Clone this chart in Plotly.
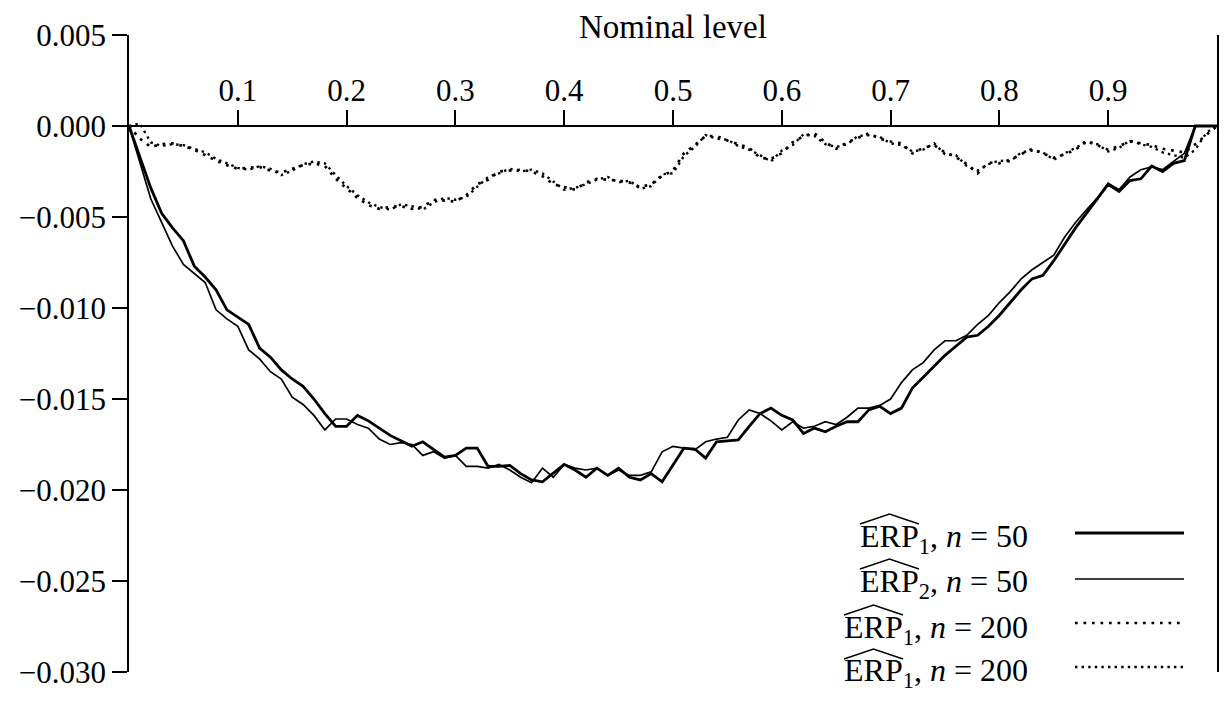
import plotly.graph_objects as go

# ---------------- data ----------------
nominal = [round(i * 0.01, 2) for i in range(101)]

erp1_n50 = [
    0.0, -1.70e-3, -3.40e-3, -4.80e-3, -5.60e-3, -6.30e-3, -7.70e-3, -8.30e-3, -9.00e-3, -10.10e-3,
    -10.50e-3, -10.90e-3, -12.20e-3, -12.70e-3, -13.40e-3, -13.90e-3, -14.30e-3, -15.00e-3, -15.80e-3, -16.50e-3,
    -16.50e-3, -15.90e-3, -16.20e-3, -16.60e-3, -17.00e-3, -17.30e-3, -17.60e-3, -17.35e-3, -17.80e-3, -18.20e-3,
    -18.10e-3, -17.70e-3, -17.70e-3, -18.70e-3, -18.70e-3, -18.65e-3, -19.10e-3, -19.45e-3, -19.55e-3, -19.10e-3,
    -18.60e-3, -18.90e-3, -19.30e-3, -18.80e-3, -19.20e-3, -18.80e-3, -19.30e-3, -19.45e-3, -19.10e-3, -19.55e-3,
    -18.60e-3, -17.70e-3, -17.75e-3, -18.25e-3, -17.35e-3, -17.30e-3, -17.25e-3, -16.50e-3, -15.80e-3, -15.50e-3,
    -15.90e-3, -16.15e-3, -16.90e-3, -16.60e-3, -16.80e-3, -16.50e-3, -16.25e-3, -16.25e-3, -15.60e-3, -15.40e-3,
    -15.80e-3, -15.50e-3, -14.40e-3, -13.80e-3, -13.20e-3, -12.60e-3, -12.10e-3, -11.60e-3, -11.50e-3, -11.00e-3,
    -10.40e-3, -9.70e-3, -9.00e-3, -8.40e-3, -8.20e-3, -7.40e-3, -6.50e-3, -5.60e-3, -4.80e-3, -4.00e-3,
    -3.20e-3, -3.60e-3, -3.00e-3, -2.90e-3, -2.20e-3, -2.50e-3, -2.05e-3, -1.90e-3, 0.0, 0.0,
    0.0,
]

erp2_n50 = [
    0.0, -2.00e-3, -4.00e-3, -5.30e-3, -6.60e-3, -7.60e-3, -8.10e-3, -8.60e-3, -10.10e-3, -10.60e-3,
    -11.00e-3, -12.30e-3, -12.80e-3, -13.50e-3, -13.90e-3, -14.90e-3, -15.30e-3, -15.90e-3, -16.70e-3, -16.10e-3,
    -16.10e-3, -16.40e-3, -16.60e-3, -17.20e-3, -17.50e-3, -17.40e-3, -17.50e-3, -18.10e-3, -17.90e-3, -18.25e-3,
    -18.10e-3, -18.70e-3, -18.70e-3, -18.80e-3, -18.60e-3, -18.90e-3, -19.30e-3, -19.60e-3, -18.80e-3, -19.30e-3,
    -18.60e-3, -18.80e-3, -18.90e-3, -18.80e-3, -19.20e-3, -18.90e-3, -19.20e-3, -19.20e-3, -19.00e-3, -17.90e-3,
    -17.60e-3, -17.70e-3, -17.80e-3, -17.35e-3, -17.20e-3, -17.10e-3, -16.15e-3, -15.60e-3, -15.80e-3, -16.20e-3,
    -16.70e-3, -16.25e-3, -16.60e-3, -16.50e-3, -16.25e-3, -16.40e-3, -16.00e-3, -15.50e-3, -15.50e-3, -15.35e-3,
    -15.00e-3, -14.10e-3, -13.40e-3, -13.00e-3, -12.30e-3, -11.80e-3, -11.80e-3, -11.50e-3, -10.90e-3, -10.40e-3,
    -9.70e-3, -9.10e-3, -8.40e-3, -7.90e-3, -7.50e-3, -7.10e-3, -6.10e-3, -5.30e-3, -4.60e-3, -3.95e-3,
    -3.15e-3, -3.50e-3, -2.80e-3, -2.40e-3, -2.25e-3, -2.40e-3, -1.95e-3, -1.50e-3, 0.0, 0.0,
    0.0,
]

erp1_n200_a = [
    0.0, -0.70e-3, -1.15e-3, -1.00e-3, -0.95e-3, -1.10e-3, -1.30e-3, -1.60e-3, -1.90e-3, -2.15e-3,
    -2.35e-3, -2.30e-3, -2.25e-3, -2.45e-3, -2.55e-3, -2.35e-3, -2.15e-3, -2.05e-3, -2.20e-3, -2.90e-3,
    -3.45e-3, -3.95e-3, -4.35e-3, -4.55e-3, -4.45e-3, -4.40e-3, -4.55e-3, -4.45e-3, -4.05e-3, -4.10e-3,
    -4.15e-3, -3.80e-3, -3.20e-3, -2.95e-3, -2.50e-3, -2.45e-3, -2.40e-3, -2.50e-3, -2.75e-3, -3.20e-3,
    -3.35e-3, -3.50e-3, -3.10e-3, -2.90e-3, -2.95e-3, -3.00e-3, -3.10e-3, -3.35e-3, -3.20e-3, -2.75e-3,
    -2.45e-3, -1.50e-3, -1.05e-3, -0.55e-3, -0.55e-3, -0.80e-3, -1.00e-3, -1.20e-3, -1.75e-3, -1.80e-3,
    -1.50e-3, -0.90e-3, -0.55e-3, -0.40e-3, -0.90e-3, -1.25e-3, -0.90e-3, -0.65e-3, -0.40e-3, -0.70e-3,
    -0.85e-3, -0.95e-3, -1.50e-3, -1.20e-3, -1.05e-3, -1.45e-3, -1.70e-3, -2.10e-3, -2.60e-3, -2.00e-3,
    -2.05e-3, -1.85e-3, -1.55e-3, -1.25e-3, -1.50e-3, -1.75e-3, -1.55e-3, -1.30e-3, -0.80e-3, -1.05e-3,
    -1.30e-3, -1.10e-3, -0.85e-3, -0.95e-3, -1.05e-3, -1.25e-3, -1.35e-3, -1.45e-3, -1.00e-3, -0.50e-3,
    0.0,
]

erp1_n200_b = [
    0.0, 0.15e-3, -0.90e-3, -1.10e-3, -1.00e-3, -1.05e-3, -1.25e-3, -1.45e-3, -1.80e-3, -2.05e-3,
    -2.30e-3, -2.40e-3, -2.20e-3, -2.35e-3, -2.70e-3, -2.45e-3, -2.10e-3, -1.95e-3, -2.05e-3, -2.70e-3,
    -3.30e-3, -3.80e-3, -4.20e-3, -4.45e-3, -4.60e-3, -4.30e-3, -4.40e-3, -4.60e-3, -4.20e-3, -3.95e-3,
    -4.05e-3, -3.90e-3, -3.35e-3, -2.80e-3, -2.60e-3, -2.35e-3, -2.50e-3, -2.40e-3, -2.60e-3, -3.05e-3,
    -3.50e-3, -3.40e-3, -3.20e-3, -2.95e-3, -2.80e-3, -3.10e-3, -3.00e-3, -3.45e-3, -3.30e-3, -2.65e-3,
    -2.60e-3, -1.65e-3, -1.15e-3, -0.50e-3, -0.70e-3, -0.75e-3, -1.10e-3, -1.30e-3, -1.60e-3, -1.95e-3,
    -1.35e-3, -1.05e-3, -0.45e-3, -0.55e-3, -1.00e-3, -1.15e-3, -1.00e-3, -0.55e-3, -0.50e-3, -0.60e-3,
    -0.95e-3, -1.05e-3, -1.40e-3, -1.30e-3, -0.95e-3, -1.55e-3, -1.60e-3, -2.20e-3, -2.45e-3, -2.10e-3,
    -1.90e-3, -1.95e-3, -1.45e-3, -1.35e-3, -1.45e-3, -1.85e-3, -1.50e-3, -1.20e-3, -0.90e-3, -1.00e-3,
    -1.40e-3, -1.20e-3, -0.80e-3, -1.00e-3, -1.15e-3, -1.45e-3, -1.60e-3, -1.75e-3, -1.30e-3, -0.40e-3,
    0.10e-3,
]

x_ticks = [0.1, 0.2, 0.3, 0.4, 0.5, 0.6, 0.7, 0.8, 0.9]
x_tick_text = ["0.1", "0.2", "0.3", "0.4", "0.5", "0.6", "0.7", "0.8", "0.9"]
y_ticks = [0.005, 0.0, -0.005, -0.010, -0.015, -0.020, -0.025, -0.030]

legend_labels = [
    "ERP<sub>1</sub>, <i>n</i> = 50",
    "ERP<sub>2</sub>, <i>n</i> = 50",
    "ERP<sub>1</sub>, <i>n</i> = 200",
    "ERP<sub>1</sub>, <i>n</i> = 200",
]

# ---------------- styling / geometry ----------------
FONT = "Liberation Serif"
W, H = 1225, 702
ML, MR, MT, MB = 129, 8, 35, 30
PW, PH = W - ML - MR, H - MT - MB
Y_MIN, Y_MAX = -0.030, 0.005
TICK_FS = 31
LEG_FS = 32


def px_x(px):
    return (px - ML) / PW


def px_y(py):
    return (H - MB - py) / PH


styles = [
    dict(width=2.8, dash="solid"),
    dict(width=1.7, dash="solid"),
    dict(width=2.7, dash="2.7px,5.8px"),
    dict(width=2.4, dash="2.4px,4.2px"),
]
series = [erp1_n50, erp2_n50, erp1_n200_a, erp1_n200_b]

fig = go.Figure()
for ys, st, lab in zip(series, styles, legend_labels):
    fig.add_trace(go.Scatter(
        x=nominal, y=ys, mode="lines", name=lab, showlegend=False,
        line=dict(color="black", width=st["width"], dash=st["dash"]),
    ))

# legend drawn manually (text on the left, line sample on the right)
row_line_py = [533, 579, 623, 667]
row_text_py = [538, 583, 629, 673]
row_text_left = [858, 858, 842, 842]
annotations = []
shapes = []
erp_w = 59
for k in range(4):
    annotations.append(dict(
        x=px_x(row_text_left[k]), y=px_y(row_text_py[k]), xref="paper", yref="paper",
        text=legend_labels[k], showarrow=False, xanchor="left", yanchor="middle",
        font=dict(family=FONT, size=LEG_FS, color="black"),
    ))
    shapes.append(dict(
        type="line", xref="paper", yref="paper",
        x0=px_x(1075), x1=px_x(1184), y0=px_y(row_line_py[k]), y1=px_y(row_line_py[k]),
        line=dict(color="black", width=styles[k]["width"], dash=styles[k]["dash"]),
    ))
    # wide hat over "ERP"
    hx0 = row_text_left[k] + 2
    hx1 = hx0 + erp_w
    base = row_text_py[k] - 14
    top = base - 10
    shapes.append(dict(
        type="path", xref="paper", yref="paper",
        path=f"M {px_x(hx0)},{px_y(base)} L {px_x((hx0 + hx1) / 2)},{px_y(top)} L {px_x(hx1)},{px_y(base)}",
        line=dict(color="black", width=1.4),
    ))

annotations.append(dict(
    x=0.5, y=px_y(27), xref="paper", yref="paper", text="Nominal level",
    showarrow=False, xanchor="center", yanchor="middle",
    font=dict(family=FONT, size=33, color="black"),
))

fig.update_layout(
    width=W, height=H,
    margin=dict(l=ML, r=MR, t=MT, b=MB, autoexpand=False),
    paper_bgcolor="white", plot_bgcolor="white",
    font=dict(family=FONT, size=TICK_FS, color="black"),
    annotations=annotations, shapes=shapes,
    xaxis=dict(
        range=[0, 1], tickvals=x_ticks, ticktext=x_tick_text,
        side="top", anchor="free", position=(0 - Y_MIN) / (Y_MAX - Y_MIN),
        showline=True, linecolor="black", linewidth=1.5,
        ticks="outside", ticklen=15, tickwidth=1.5, tickcolor="black",
        showgrid=False, zeroline=False, automargin=False,
        tickfont=dict(family=FONT, size=TICK_FS),
        ticklabelstandoff=-3,
    ),
    yaxis=dict(
        range=[Y_MIN - 1e-6, Y_MAX + 1e-6], tickvals=y_ticks, tickformat=".3f",
        showline=True, linecolor="black", linewidth=1.5, mirror=True,
        ticks="outside", ticklen=15, tickwidth=1.5, tickcolor="black",
        showgrid=False, zeroline=False, automargin=False,
        tickfont=dict(family=FONT, size=TICK_FS),
    ),
)

fig.write_html("out.html")
